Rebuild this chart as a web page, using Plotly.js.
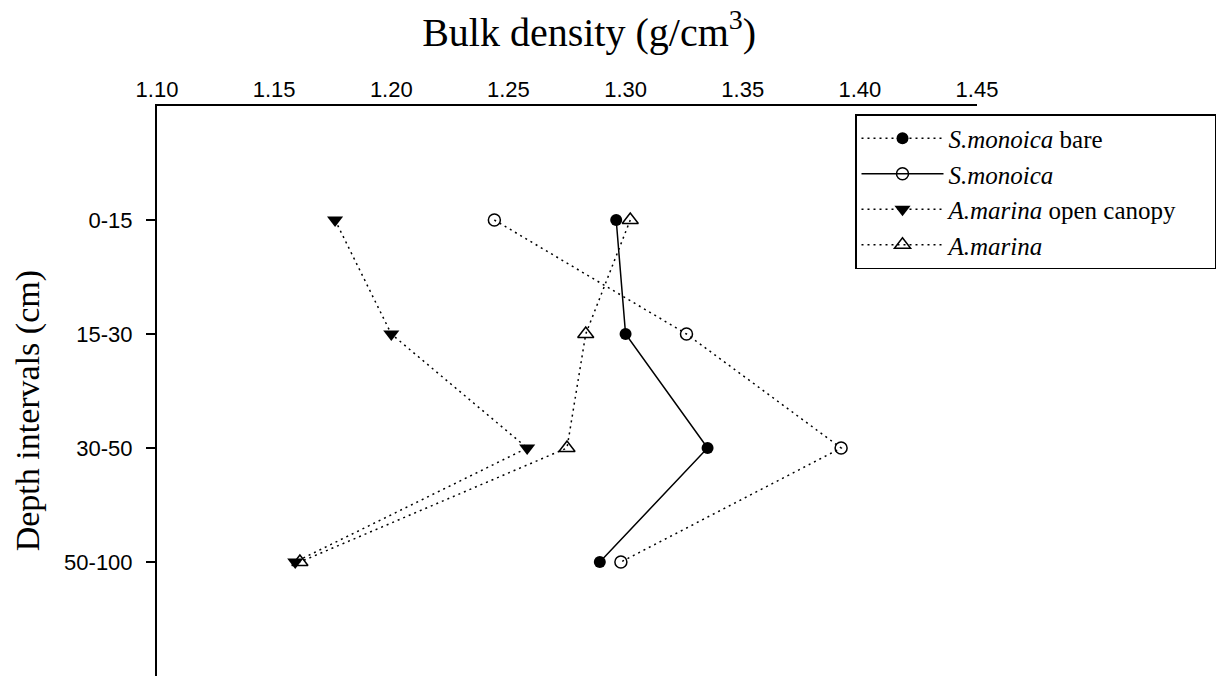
<!DOCTYPE html>
<html>
<head>
<meta charset="utf-8">
<script src="https://cdn.plot.ly/plotly-3.0.1.min.js"></script>
<style>html,body{margin:0;padding:0;background:#fff;}#chart{width:1216px;height:676px;}</style>
</head>
<body>
<div id="chart"></div>
<script>
// Depth intervals (categories, top to bottom)
const depths = ['0-15', '15-30', '30-50', '50-100'];
// Bulk density values (g/cm3)
const smonoicaBare = [1.296, 1.300, 1.335, 1.289];
const smonoica = [1.244, 1.326, 1.392, 1.298];
const amarinaOpen = [1.176, 1.200, 1.258, 1.159];
const amarina = [1.302, 1.283, 1.275, 1.161];
// Tick values for the density axis
const densityTicks = [1.10, 1.15, 1.20, 1.25, 1.30, 1.35, 1.40, 1.45];

const legendNames = ['<i>S.monoica</i> bare', '<i>S.monoica</i>', '<i>A.marina</i> open canopy&nbsp;&nbsp;&nbsp;&nbsp;&nbsp;', '<i>A.marina</i>'];

const dotDash = '2px,4px';
const lw = 1.5;

const traces = [
  {x: smonoica, y: depths, type: 'scatter', mode: 'lines+markers', showlegend: false,
   line: {color: '#000', width: lw, dash: dotDash},
   marker: {symbol: 'circle-open', size: 12, color: '#000', line: {width: 1.5, color: '#000'}}},
  {x: amarinaOpen, y: depths, type: 'scatter', mode: 'lines+markers', showlegend: false,
   line: {color: '#000', width: lw, dash: dotDash},
   marker: {symbol: 'triangle-down', size: 14, color: '#000', line: {width: 0}}},
  {x: amarina, y: depths, type: 'scatter', mode: 'lines+markers', showlegend: false,
   line: {color: '#000', width: lw, dash: dotDash},
   marker: {symbol: 'triangle-up-open', size: 14, color: '#000', line: {width: 1.5, color: '#000'}}},
  {x: smonoicaBare, y: depths, type: 'scatter', mode: 'lines+markers', showlegend: false,
   line: {color: '#000', width: lw},
   marker: {symbol: 'circle', size: 12, color: '#000', line: {width: 0}}},
  // legend entries (styled as in the figure's key)
  {x: [null], y: [null], type: 'scatter', mode: 'lines+markers', name: legendNames[0],
   line: {color: '#000', width: lw, dash: dotDash},
   marker: {symbol: 'circle', size: 12, color: '#000', line: {width: 0}}},
  {x: [null], y: [null], type: 'scatter', mode: 'lines+markers', name: legendNames[1],
   line: {color: '#000', width: lw},
   marker: {symbol: 'circle-open', size: 12, color: '#000', line: {width: 1.5, color: '#000'}}},
  {x: [null], y: [null], type: 'scatter', mode: 'lines+markers', name: legendNames[2],
   line: {color: '#000', width: lw, dash: dotDash},
   marker: {symbol: 'triangle-down', size: 14, color: '#000', line: {width: 0}}},
  {x: [null], y: [null], type: 'scatter', mode: 'lines+markers', name: legendNames[3],
   line: {color: '#000', width: lw, dash: dotDash},
   marker: {symbol: 'triangle-up-open', size: 14, color: '#000', line: {width: 1.5, color: '#000'}}}
];

const layout = {
  width: 1216, height: 676,
  margin: {l: 157, r: 237, t: 106, b: 0, pad: 0},
  paper_bgcolor: '#fff', plot_bgcolor: '#fff',
  showlegend: true,
  title: {
    text: 'Bulk density (g/cm<sup>3</sup>)',
    font: {family: 'Liberation Serif, Times New Roman, serif', size: 40, color: '#000'},
    xref: 'paper', x: 0.527, xanchor: 'center',
    yref: 'container', y: 1 - 32 / 676, yanchor: 'middle'
  },
  xaxis: {
    side: 'top', range: [1.10, 1.45], tickvals: densityTicks, tickformat: '.2f',
    showgrid: false, zeroline: false, showline: true, linecolor: '#000', linewidth: 2,
    ticks: '', ticklabelstandoff: -2,
    tickfont: {family: 'Liberation Sans, Arial, sans-serif', size: 22, color: '#000'}
  },
  yaxis: {
    type: 'category', categoryarray: depths, range: [4, -1],
    showgrid: false, zeroline: false, showline: true, linecolor: '#000', linewidth: 2,
    ticks: 'outside', ticklen: 9, tickwidth: 1.5, tickcolor: '#000', ticklabelstandoff: 9,
    tickfont: {family: 'Liberation Sans, Arial, sans-serif', size: 22, color: '#000'}
  },
  legend: {
    x: (857 - 157) / 822, xanchor: 'left', xref: 'paper',
    y: (676 - 114) / 570, yanchor: 'top', yref: 'paper',
    bgcolor: '#fff', bordercolor: '#000', borderwidth: 1.5,
    font: {family: 'Liberation Serif, Times New Roman, serif', size: 25, color: '#000'},
    traceorder: 'normal', itemwidth: 82
  },
  annotations: [{
    text: 'Depth intervals (cm)', textangle: -90, showarrow: false,
    xref: 'paper', x: (28 - 157) / 822, xanchor: 'center',
    yref: 'paper', y: (676 - 411) / 570, yanchor: 'middle',
    font: {family: 'Liberation Serif, Times New Roman, serif', size: 34, color: '#000'}
  }]
};

Plotly.newPlot('chart', traces, layout, {displayModeBar: false, staticPlot: true});
</script>
</body>
</html>
